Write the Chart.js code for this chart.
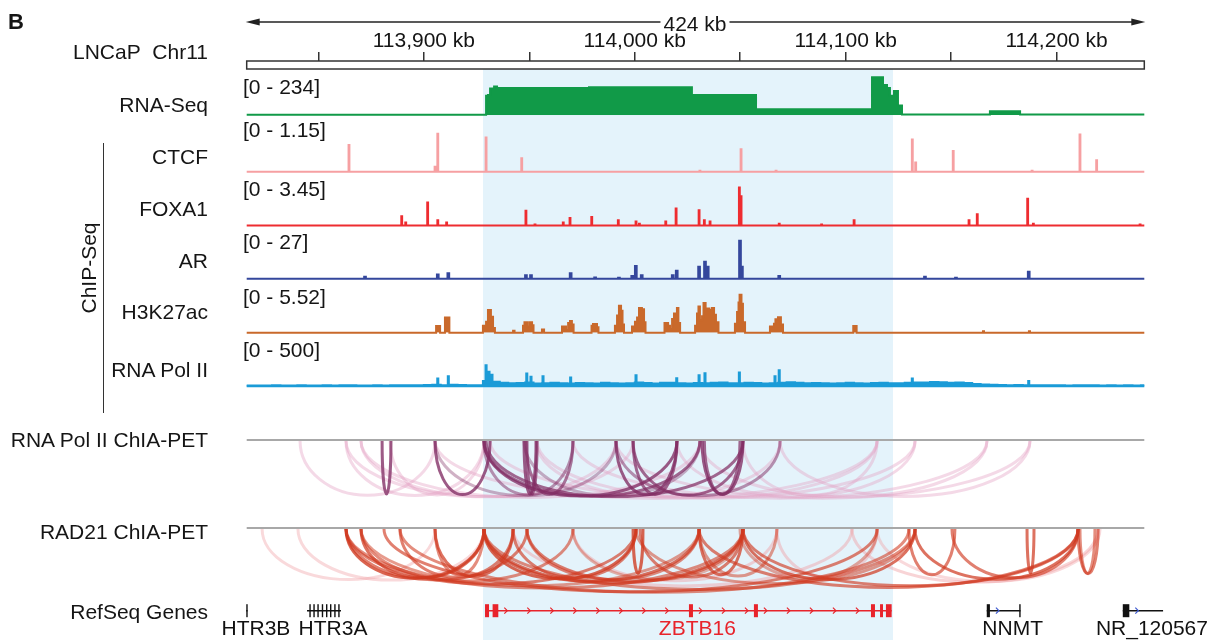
<!DOCTYPE html>
<html>
<head>
<meta charset="utf-8">
<script src="https://cdn.jsdelivr.net/npm/chart.js@4.4.0/dist/chart.umd.min.js"></script>
<style>
  html, body { margin: 0; padding: 0; background: #fff; }
  #fig { position: relative; width: 1221px; height: 640px; overflow: hidden;
         font-family: 'Liberation Sans', Arial, sans-serif; color: #151515; }
  #fig canvas { position: absolute; left: 0; z-index: 1; }
  #hl { position: absolute; background: #e4f3fb; z-index: 0; }
  .lbl { position: absolute; z-index: 2; font-size: 21px; line-height: 21px; white-space: nowrap; transform: translateY(-50%); }
  .name { right: 1013px; text-align: right; }
  .range { left: 243px; }
  .rot { position: absolute; z-index: 2; font-size: 21px; line-height: 21px; white-space: nowrap;
         transform: translate(-50%, -50%) rotate(-90deg); }
</style>
</head>
<body>
<div id="fig">
  <div id="hl"></div>
  <div class="lbl" style="left:8px;top:21px;font-weight:bold;font-size:22px;">B</div>
  <div class="lbl name" style="top:51px;">LNCaP&nbsp; Chr11</div>
  <div class="lbl name" style="top:439px;">RNA Pol II ChIA-PET</div>
  <div class="lbl name" style="top:530.5px;">RAD21 ChIA-PET</div>
  <div class="lbl name" style="top:610.5px;">RefSeq Genes</div>
  <div class="rot" style="left:88px;top:268px;">ChIP-Seq</div>
  <div style="position:absolute;left:102.5px;top:143px;width:1.5px;height:270px;background:#333;"></div>
  <div id="span" class="lbl" style="top:23px;background:#fff;padding:0 3px;transform:translate(-50%,-50%);"></div>
</div>
<script>
// genomic window (kb)
const X_MIN = 113816, X_MAX = 114241.6;
const spanText = '424 kb';
const hlStart = 113927.9, hlEnd = 114122.6;

const trackNames = ['RNA-Seq', 'CTCF', 'FOXA1', 'AR', 'H3K27ac', 'RNA Pol II'];
const trackMax = [234, 1.15, 3.45, 27, 5.52, 500];

// RNA-Seq coverage (value holds from each position onward)
const rnaPos = [113816, 113929.5, 113930.4, 113931.4, 113933.3, 113934.7, 113978.3, 114027.1, 114057.5,
  114112.5, 114117.7, 114119.6, 114121.0, 114122.9, 114124.8, 114126.7, 114168.4, 114182.7, 114241.6];
const rnaVal = [3, 120, 124, 165, 176, 167, 172, 124, 37, 234, 186, 167, 120, 149, 60, 5, 25, 5, 5];

// ChIP-Seq peaks
const ctcfPos = [113864.5, 113905.3, 113906.6, 113929.5, 113946.4, 114030.9, 114050.4, 114067.0,
  114131.6, 114133.2, 114151.0, 114188.4, 114211.1, 114219.0];
const ctcfVal = [0.81, 0.15, 1.15, 1.04, 0.41, 0.03, 0.68, 0.03, 0.98, 0.28, 0.63, 0.03, 1.13, 0.35];

const foxa1Pos = [113889.5, 113891.4, 113901.8, 113906.6, 113910.8, 113948.4, 113952.7, 113966.1, 113969.3,
  113979.6, 113992.2, 114000.6, 114002.2, 114014.7, 114019.6, 114030.5, 114033.0, 114035.7, 114049.6,
  114050.4, 114068.5, 114088.6, 114104.0, 114158.5, 114162.4, 114186.3, 114189.0, 114239.6];
const foxa1Val = [0.84, 0.27, 2.09, 0.48, 0.27, 1.33, 0.1, 0.27, 0.69, 0.78, 0.48, 0.36, 0.15, 0.36, 1.54,
  1.39, 0.48, 0.36, 3.45, 2.66, 0.15, 0.1, 0.48, 0.48, 1.03, 2.42, 0.15, 0.08];

const arPos = [113872.1, 113906.6, 113911.6, 113948.4, 113950.8, 113969.6, 113981.2, 113992.5, 113998.8,
  114000.5, 114003.3, 114018.0, 114019.9, 114030.5, 114033.3, 114034.6, 114049.9, 114050.8, 114068.5,
  114137.6, 114152.3, 114186.8];
const arVal = [1.4, 3.1, 3.9, 2.6, 2.6, 3.9, 1.0, 0.7, 2.0, 9.1, 2.6, 2.6, 5.7, 8.6, 12.2, 8.6, 27, 8.6,
  2.0, 1.4, 0.7, 5.0];

// H3K27ac coverage (value holds from each position onward)
const h3Pos = [113816, 113905.8, 113907.7, 113910.0, 113912.1, 113928.0, 113929.5, 113930.4, 113931.8,
  113932.8, 113933.7, 113942.3, 113943.0, 113947.0, 113947.7, 113948.9, 113949.9, 113951.3, 113952.0,
  113956.0, 113957.0, 113965.5, 113967.4, 113968.4, 113969.3, 113970.2, 113971.0, 113979.5, 113980.2,
  113982.1, 113982.8, 113990.6, 113991.6, 113992.5, 113993.5, 113994.2, 113994.9, 113998.7, 114000.1,
  114001.1, 114002.0, 114003.4, 114004.4, 114005.1, 114014.1, 114015.8, 114016.7, 114017.7, 114018.6,
  114020.0, 114020.7, 114021.5, 114028.6, 114029.5, 114030.2, 114030.9, 114031.9, 114032.6, 114033.6,
  114034.5, 114035.4, 114036.6, 114037.6, 114038.5, 114039.7, 114047.5, 114048.5, 114049.2, 114049.7,
  114050.6, 114051.3, 114052.3, 114064.1, 114066.0, 114066.7, 114067.9, 114069.3, 114070.3, 114103.6,
  114105.2, 114165.1, 114165.6, 114186.9, 114187.4, 114241.6];
const h3Val = [0, 0.98, 0, 2.2, 0, 1.0, 1.6, 3.3, 2.3, 0.7, 0, 0.3, 0, 1.0, 1.5, 0.9, 1.5, 1.1, 0, 0.45, 0,
  0.9, 0.4, 1.4, 1.7, 1.2, 0, 1.0, 1.27, 0.8, 0, 1.0, 2.5, 3.9, 3.2, 1.2, 0, 0.9, 1.6, 2.2, 3.6, 3.4, 1.5, 0,
  1.4, 1.0, 0.5, 2.0, 2.8, 3.6, 1.4, 0, 1.0, 2.8, 3.8, 1.8, 2.4, 4.3, 3.2, 3.5, 3.3, 3.6, 2.6, 1.5, 0,
  1.3, 3.0, 4.4, 5.52, 4.2, 1.5, 0, 0.9, 1.3, 1.96, 2.25, 1.2, 0, 0.98, 0, 0.2, 0, 0.2, 0, 0];

// RNA Pol II: 4 kb background bins + sharp peaks
const polBinStart = 113816, polBinKb = 4;
const polBg = [8, 10, 9, 12, 10, 8, 11, 9, 10, 12, 9, 11, 13, 10, 9, 12, 10, 11, 14, 12, 13, 15, 18, 14, 20, 15, 12, 14, 70, 60,
  45, 38, 42, 50, 36, 40, 44, 38, 35, 42,
  40, 36, 45, 38, 34, 40, 48, 42, 37, 44,
  46, 40, 36, 42, 38, 45, 50, 40, 38, 44,
  42, 36, 40, 47, 52, 44, 38, 42, 40, 36,
  38, 44, 40, 35, 42, 46, 40, 38, 44, 50,
  48, 55, 52, 45, 50, 42, 30, 22, 18, 16,
  14, 15, 12, 13, 11, 14, 12, 10, 13, 11,
  12, 10, 11, 9, 12, 10, 11];
const polPeakPos = [113906.6, 113911.6, 113929.5, 113930.9, 113932.3, 113948.8, 113950.8, 113956.5, 113969.6,
  114000.6, 114019.9, 114030.5, 114033.3, 114049.6, 114066.5, 114068.5, 114131.6, 114186.8];
const polPeakVal = [100, 130, 276, 190, 150, 168, 123, 132, 115, 145, 105, 145, 172, 180, 130, 210, 100, 70];

// ChIA-PET loops: anchor start, anchor end (kb), strength 0..1
const pol2ArcStart = [113880.2, 113905.3, 113928.5, 113928.5, 113929.5, 113947.5, 113948.9, 113948.4, 113991.1,
  113999.2, 113999.2, 114031.9, 114033.0, 113991.1, 113928.5, 113905.3, 113947.5, 113863.1, 113870.2, 113841.3,
  113863.1, 113870.2, 113905.3, 113931.4, 113970.7, 113991.1, 114020.0, 114051.3, 114068.9, 114030.9, 113953.2,
  113953.7, 113884.0];
const pol2ArcEnd = [113884.4, 113931.4, 114020.0, 114030.9, 114051.3, 113953.2, 113953.7, 113970.7, 114020.0,
  114020.0, 114051.3, 114051.3, 114049.9, 114068.9, 113970.7, 113991.1, 114030.9, 113928.5, 113991.1, 113905.3,
  113999.2, 114030.9, 114114.9, 114132.9, 114167.0, 114187.4, 114132.9, 114114.9, 114187.4, 114167.0, 114068.9,
  114114.9, 113928.5];
const pol2ArcW = [1, 1, 1, 0.9, 0.9, 1, 0.9, 0.8, 1, 0.9, 0.9, 1, 0.9, 0.6, 0.6, 0.4, 0.4, 0.15, 0.15, 0.15,
  0.15, 0.15, 0.15, 0.15, 0.15, 0.15, 0.15, 0.15, 0.15, 0.15, 0.15, 0.15, 0.15];

const radArcStart = [113863.1, 113863.1, 113870.2, 113870.2, 113888.7, 113905.3, 113905.3, 113928.5, 113928.5,
  113928.5, 113942.3, 113948.9, 113999.2, 114002.5, 114030.5, 114030.5, 114051.3, 114049.9, 114130.0, 114132.9,
  114150.4, 114186.0, 114210.2, 114211.1, 113881.1, 113888.7, 113863.1, 113928.5, 114030.5, 114051.3, 114000.6,
  113948.9, 113970.7, 113840.3, 113823.3, 113970.7, 114067.4, 114103.0, 114114.9, 113942.3, 113863.1, 113870.2];
const radArcEnd = [113928.5, 113948.9, 113928.5, 113970.7, 113942.3, 113942.3, 113928.5, 114000.6, 114030.5,
  114051.3, 114000.6, 114051.3, 114003.9, 114051.3, 114051.3, 114067.4, 114132.9, 114114.9, 114151.8, 114210.2,
  114210.2, 114189.3, 114219.7, 114218.2, 114114.9, 114130.0, 114051.3, 114132.9, 114210.2, 114210.2, 114132.9,
  114030.5, 114051.3, 113928.5, 113905.3, 114067.4, 114114.9, 114219.7, 114220.6, 114103.0, 114000.6, 114030.5];
const radArcW = [1, 0.8, 0.9, 0.7, 0.8, 0.9, 0.7, 1, 0.9, 0.9, 0.8, 0.8, 1, 0.8, 0.9, 0.6, 0.9, 0.5, 0.8, 0.9,
  0.8, 0.9, 0.8, 0.7, 0.8, 0.7, 0.7, 0.7, 0.8, 0.8, 0.6, 0.7, 0.4, 0.15, 0.15, 0.2, 0.2, 0.2, 0.15, 0.2, 0.8, 0.6];

// RefSeq genes
const geneNames = ['HTR3B', 'HTR3A', 'ZBTB16', 'NNMT', 'NR_120567'];
const geneStart = [113815.8, 113844.6, 113929.0, 114166.9, 114231.4];
const geneEnd = [113816.4, 113860.7, 114121.8, 114182.9, 114250.5];
const geneExons = [
  [[113815.8, 113816.4]],
  [[113845.7, 113846.3], [113847.6, 113848.2], [113849.5, 113850.1], [113851.6, 113852.2], [113853.6, 113854.2],
   [113855.5, 113856.1], [113857.5, 113858.1], [113859.4, 113860.0]],
  [[113929.0, 113930.9], [113932.6, 113935.3], [114025.7, 114027.6], [114056.5, 114058.4], [114112.0, 114113.9],
   [114116.3, 114117.7], [114119.1, 114121.8]],
  [[114166.9, 114168.4], [114182.3, 114182.9]],
  [[114231.4, 114234.5]]
];

// ---------- layout & style ----------
const FONT = "'Liberation Sans', Arial, sans-serif";
Chart.defaults.font.family = FONT;
Chart.defaults.color = '#151515';
const W = 1221, PAD_L = 246.7, PAD_R = 76.7;
const trackColors = ['#119a48', '#f6a0a2', '#ee2c30', '#34479c', '#c9692b', '#1b9bd7'];
const trackBase = [115.2, 171.8, 225.5, 278.8, 332.7, 386.2];
const trackHeight = 38;
const nameY = [104, 155.5, 207.5, 260, 310.5, 368.5];
const rangeY = [86, 129, 187.5, 240.7, 295.5, 349];
const geneColor = { ZBTB16: '#e8232b' };

const fig = document.getElementById('fig');

function addLabel(text, cls, top) {
  const d = document.createElement('div');
  d.className = 'lbl ' + cls;
  d.style.top = top + 'px';
  d.textContent = text;
  fig.appendChild(d);
}

function makeCanvas(top, height) {
  const c = document.createElement('canvas');
  c.width = W; c.height = height;
  c.style.top = top + 'px';
  fig.appendChild(c);
  return c;
}

function baseOptions(padTop, padBottom, ymax) {
  return {
    responsive: false, animation: false, events: [],
    layout: { padding: { left: PAD_L, right: PAD_R, top: padTop, bottom: padBottom } },
    plugins: { legend: { display: false }, tooltip: { enabled: false } },
    scales: {
      x: { type: 'linear', min: X_MIN, max: X_MAX, display: false },
      y: { min: 0, max: ymax, display: false }
    }
  };
}

function stepSeries(pos, val) {
  return pos.map((x, i) => ({ x, y: val[i] }));
}

function spikeSeries(pos, val, w) {
  const pts = [{ x: X_MIN, y: 0 }];
  pos.forEach((x, i) => pts.push({ x: x - w / 2, y: val[i] }, { x: x + w / 2, y: 0 }));
  pts.push({ x: X_MAX, y: 0 });
  return pts;
}

function area(data, color) {
  return { data, borderColor: color, backgroundColor: color, borderWidth: 2, fill: 'origin',
           stepped: true, pointRadius: 0, clip: false };
}

function trackChart(i, datasets) {
  const base = trackBase[i], top = base - trackHeight;
  const cTop = Math.floor(top) - 4;
  const cH = Math.ceil(base) + 4 - cTop;
  const canvas = makeCanvas(cTop, cH);
  return new Chart(canvas, {
    type: 'line',
    data: { datasets },
    options: baseOptions(top - cTop, cTop + cH - base, trackMax[i])
  });
}

// ---------- ruler ----------
const RULER_H = 8;
const rulerPlugin = {
  id: 'ruler',
  afterDraw(chart) {
    const { ctx, chartArea: a } = chart;
    ctx.save();
    ctx.strokeStyle = '#333'; ctx.lineWidth = 1.5;
    ctx.strokeRect(a.left, a.top, a.right - a.left, RULER_H);
    const y = 22;
    ctx.strokeStyle = '#222'; ctx.fillStyle = '#222'; ctx.lineWidth = 1.3;
    ctx.beginPath(); ctx.moveTo(a.left + 6, y); ctx.lineTo(a.right - 6, y); ctx.stroke();
    ctx.beginPath(); ctx.moveTo(a.left - 1, y); ctx.lineTo(a.left + 13, y - 3.5); ctx.lineTo(a.left + 13, y + 3.5); ctx.closePath(); ctx.fill();
    ctx.beginPath(); ctx.moveTo(a.right + 1, y); ctx.lineTo(a.right - 13, y - 3.5); ctx.lineTo(a.right - 13, y + 3.5); ctx.closePath(); ctx.fill();
    ctx.restore();
  }
};

// chart area starts at y=61; extra area below keeps the top axis from being height-capped
const rulerOpts = baseOptions(31, 10, 1);
rulerOpts.scales.x = {
  type: 'linear', position: 'top', min: X_MIN, max: X_MAX,
  ticks: {
    stepSize: 50, includeBounds: false, autoSkip: false, maxRotation: 0, padding: 0,
    font: { size: 21, lineHeight: 1 }, color: '#151515',
    callback: v => (v % 100 === 0 ? v.toLocaleString('en-US') + ' kb' : '')
  },
  grid: { drawOnChartArea: false, drawTicks: true, tickLength: 9, color: '#333', lineWidth: 1.5 },
  border: { display: false }
};
const ruler = new Chart(makeCanvas(0, 110), {
  type: 'line', data: { datasets: [] }, options: rulerOpts, plugins: [rulerPlugin]
});

const rx = ruler.scales.x;
const hl = document.getElementById('hl');
hl.style.left = rx.getPixelForValue(hlStart) + 'px';
hl.style.width = (rx.getPixelForValue(hlEnd) - rx.getPixelForValue(hlStart)) + 'px';
hl.style.top = (ruler.chartArea.top + RULER_H) + 'px';
hl.style.height = (640 - ruler.chartArea.top - RULER_H) + 'px';

const spanLbl = document.getElementById('span');
spanLbl.textContent = spanText;
spanLbl.style.left = '695px';

// ---------- signal tracks ----------
trackNames.forEach((n, i) => {
  addLabel(n, 'name', nameY[i]);
  addLabel('[0 - ' + trackMax[i] + ']', 'range', rangeY[i]);
});

trackChart(0, [area(stepSeries(rnaPos, rnaVal), trackColors[0])]);
trackChart(1, [area(spikeSeries(ctcfPos, ctcfVal, 0.4), trackColors[1])]);
trackChart(2, [area(spikeSeries(foxa1Pos, foxa1Val, 0.4), trackColors[2])]);
trackChart(3, [area(spikeSeries(arPos, arVal, 0.8), trackColors[3])]);
trackChart(4, [area(stepSeries(h3Pos, h3Val), trackColors[4])]);

const polBgData = polBg.map((v, i) => ({ x: polBinStart + i * polBinKb, y: v }));
polBgData.push({ x: X_MAX, y: polBg[polBg.length - 1] });
trackChart(5, [
  area(polBgData, trackColors[5]),
  area(spikeSeries(polPeakPos, polPeakVal, 0.5), trackColors[5])
]);

// ---------- ChIA-PET arcs ----------
function arcPlugin(starts, ends, weights, rgb, faintRgb, depthFn) {
  return {
    id: 'arcs',
    afterDatasetsDraw(chart) {
      const { ctx, chartArea: a, scales: { x } } = chart;
      const y0 = a.top;
      ctx.save();
      ctx.strokeStyle = '#a8a8a8'; ctx.lineWidth = 2;
      ctx.beginPath(); ctx.moveTo(a.left, y0); ctx.lineTo(a.right, y0); ctx.stroke();
      ctx.lineWidth = 3;
      const order = starts.map((s, i) => i).sort((p, q) => weights[p] - weights[q]);
      order.forEach(i => {
        const w = weights[i];
        const x1 = x.getPixelForValue(starts[i]), x2 = x.getPixelForValue(ends[i]);
        const r = (x2 - x1) / 2;
        ctx.strokeStyle = w < 0.3
          ? 'rgba(' + faintRgb + ',' + (0.25 + w) + ')'
          : 'rgba(' + rgb + ',' + (0.1 + 0.68 * w) + ')';
        ctx.beginPath();
        ctx.ellipse(x1 + r, y0 + 1, Math.max(r, 0.5), depthFn(x2 - x1), 0, 0, Math.PI);
        ctx.stroke();
      });
      ctx.restore();
    }
  };
}

new Chart(makeCanvas(430, 90), {
  type: 'line', data: { datasets: [] }, options: baseOptions(10, 5, 1),
  plugins: [arcPlugin(pol2ArcStart, pol2ArcEnd, pol2ArcW, '130,45,100', '228,160,195', s => 53 + 0.01 * s)]
});
new Chart(makeCanvas(518, 80), {
  type: 'line', data: { datasets: [] }, options: baseOptions(10, 5, 1),
  plugins: [arcPlugin(radArcStart, radArcEnd, radArcW, '208,58,32', '240,160,165', s => 44 + 0.038 * s)]
});

// ---------- RefSeq genes ----------
const genePlugin = {
  id: 'genes',
  afterDatasetsDraw(chart) {
    const { ctx, chartArea: a, scales: { x } } = chart;
    const yc = a.top;
    ctx.save();
    geneNames.forEach((name, g) => {
      const col = geneColor[name] || '#111';
      const x1 = x.getPixelForValue(geneStart[g]), x2 = x.getPixelForValue(geneEnd[g]);
      ctx.strokeStyle = col; ctx.fillStyle = col; ctx.lineWidth = 1.4;
      ctx.beginPath(); ctx.moveTo(x1, yc); ctx.lineTo(x2, yc); ctx.stroke();
      const ex = geneExons[g];
      ex.forEach(([s, e]) => {
        const p = x.getPixelForValue(s), q = x.getPixelForValue(e);
        ctx.fillRect(p, yc - 6.5, Math.max(q - p, 1.4), 13);
      });
      // strand chevrons along introns
      const arrowCol = geneColor[name] ? col : '#3f5bd0';
      ctx.strokeStyle = arrowCol; ctx.lineWidth = 1.2;
      const segs = [];
      for (let k = 0; k < ex.length - 1; k++) segs.push([ex[k][1], ex[k + 1][0]]);
      if (ex[ex.length - 1][1] < geneEnd[g]) segs.push([ex[ex.length - 1][1], geneEnd[g]]);
      segs.forEach(([s, e]) => {
        const p0 = x.getPixelForValue(s), p1 = x.getPixelForValue(e);
        for (let p = p0 + 8; p < p1 - 6; p += 23) {
          ctx.beginPath();
          ctx.moveTo(p - 2, yc - 3); ctx.lineTo(p + 1, yc); ctx.lineTo(p - 2, yc + 3);
          ctx.stroke();
        }
      });
      ctx.fillStyle = col;
      ctx.font = '21px ' + FONT;
      ctx.textAlign = 'center'; ctx.textBaseline = 'middle';
      ctx.fillText(name, (x1 + x2) / 2 + 9, yc + 19);
    });
    ctx.restore();
  }
};

new Chart(makeCanvas(596, 44), {
  type: 'line', data: { datasets: [] }, options: baseOptions(14.7, 5, 1), plugins: [genePlugin]
});
</script>
</body>
</html>
